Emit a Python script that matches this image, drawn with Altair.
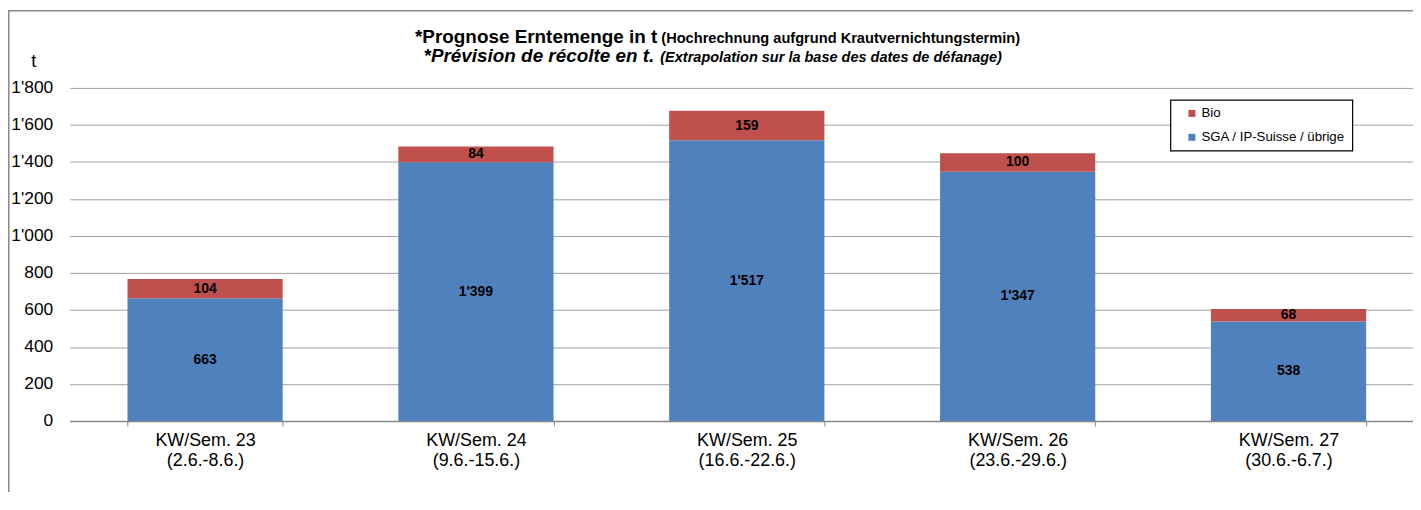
import altair as alt
import pandas as pd

FONT = "Liberation Sans"

weeks = ["KW/Sem. 23", "KW/Sem. 24", "KW/Sem. 25", "KW/Sem. 26", "KW/Sem. 27"]
dates = ["(2.6.-8.6.)", "(9.6.-15.6.)", "(16.6.-22.6.)", "(23.6.-29.6.)", "(30.6.-6.7.)"]
series_names = ["Bio", "SGA / IP-Suisse / übrige"]
sga = [663, 1399, 1517, 1347, 538]
bio = [104, 84, 159, 100, 68]
y_ticks = [0, 200, 400, 600, 800, 1000, 1200, 1400, 1600, 1800]

title_line1 = ["*Prognose Erntemenge in t", "(Hochrechnung aufgrund Krautvernichtungstermin)"]
title_line2 = ["*Prévision de récolte en t.", "(Extrapolation sur la base des dates de défanage)"]
y_unit = ["t"]

cats = [f"{w}|{d}" for w, d in zip(weeks, dates)]

rows = []
for c, s, b in zip(cats, sga, bio):
    rows.append({"cat": c, "series": series_names[1], "value": s, "ord": 0,
                 "label": f"{s:,}".replace(",", "'")})
    rows.append({"cat": c, "series": series_names[0], "value": b, "ord": 1,
                 "label": f"{b:,}".replace(",", "'")})
df = pd.DataFrame(rows)

x_scale = alt.Scale(paddingInner=0.427, paddingOuter=0.2135)
y_scale = alt.Scale(domain=[0, 1800], nice=False)

x_axis = alt.Axis(title=None, labelExpr="split(datum.label, '|')", labelAngle=0,
                  tickBand="extent", grid=False, domainColor="#868686",
                  domainWidth=1.5, tickColor="#868686", tickSize=5, tickWidth=1,
                  labelFontSize=18, labelPadding=6, labelLineHeight=20,
                  labelColor="#000000", labelFont=FONT, labelBaseline="top",
                  labelOverlap=False)
y_axis = alt.Axis(title=None, values=y_ticks, tickCount=10,
                  labelExpr="replace(format(datum.value, ','), ',', \"'\")",
                  grid=True, gridColor="#A0A0A0", gridWidth=1, domain=False,
                  ticks=False, labelPadding=17, labelFontSize=17.5,
                  labelColor="#000000", labelFont=FONT, labelOverlap=False)

base = alt.Chart(df)

bars = base.mark_bar().encode(
    x=alt.X("cat:N", sort=cats, scale=x_scale, axis=x_axis),
    y=alt.Y("value:Q", stack="zero", scale=y_scale, axis=y_axis),
    color=alt.Color("series:N",
                    scale=alt.Scale(domain=series_names, range=["#C0504D", "#4F81BD"]),
                    legend=alt.Legend(orient="none", legendX=1107, legendY=12, title=None,
                                      strokeColor="#000000", fillColor="#FFFFFF",
                                      padding=7, symbolType="square", symbolSize=49,
                                      labelFontSize=13.3, labelFont=FONT, labelColor="#000000",
                                      rowPadding=10, symbolOffset=8, labelOffset=3,
                                      symbolStrokeWidth=0)),
    order=alt.Order("ord:Q", sort="ascending"),
)

labels = base.transform_stack(
    stack="value", groupby=["cat"], as_=["y0", "y1"],
    sort=[alt.SortField("ord", order="ascending")]
).transform_calculate(
    mid="(datum.y0 + datum.y1) / 2"
).mark_text(font=FONT, fontWeight="bold", fontSize=14, color="#000000", baseline="middle").encode(
    x=alt.X("cat:N", sort=cats, scale=x_scale, axis=x_axis),
    y=alt.Y("mid:Q", scale=y_scale, axis=y_axis),
    text="label:N",
)

def txt(s, x, y, size, align, italic=False, weight="bold"):
    return alt.Chart(pd.DataFrame({"t": [s]})).mark_text(
        font=FONT, fontSize=size, fontWeight=weight, align=align, baseline="alphabetic",
        fontStyle="italic" if italic else "normal", color="#000000"
    ).encode(x=alt.value(x), y=alt.value(y), text="t:N")

t1a = txt(title_line1[0], 591, -45, 19, "right")
t1b = txt(title_line1[1], 595, -45, 14.7, "left")
t2a = txt(title_line2[0], 588, -26, 19, "right", italic=True)
t2b = txt(title_line2[1], 594, -26, 14.6, "left", italic=True)
tu = txt(y_unit[0], -36, -21, 18, "center", weight="normal")

one = pd.DataFrame({"a": [0]})
border_left = alt.Chart(one).mark_rule(color="#878787", strokeWidth=1.5).encode(
    x=alt.value(-61.2), y=alt.value(-77.5), y2=alt.value(420))
border_top = alt.Chart(one).mark_rule(color="#878787", strokeWidth=1.5).encode(
    x=alt.value(-62), x2=alt.value(1400), y=alt.value(-77.5))

chart = alt.layer(bars, labels, t1a, t1b, t2a, t2b, tu, border_left, border_top).properties(
    width=1362, height=335,
    autosize=alt.AutoSizeParams(type="none"),
    padding={"left": 62, "top": 79, "right": -11, "bottom": 70},
).configure_view(strokeWidth=0).configure_legend(strokeWidth=1.2)

chart.save("out.html", embed_options={"renderer": "svg", "actions": False})
